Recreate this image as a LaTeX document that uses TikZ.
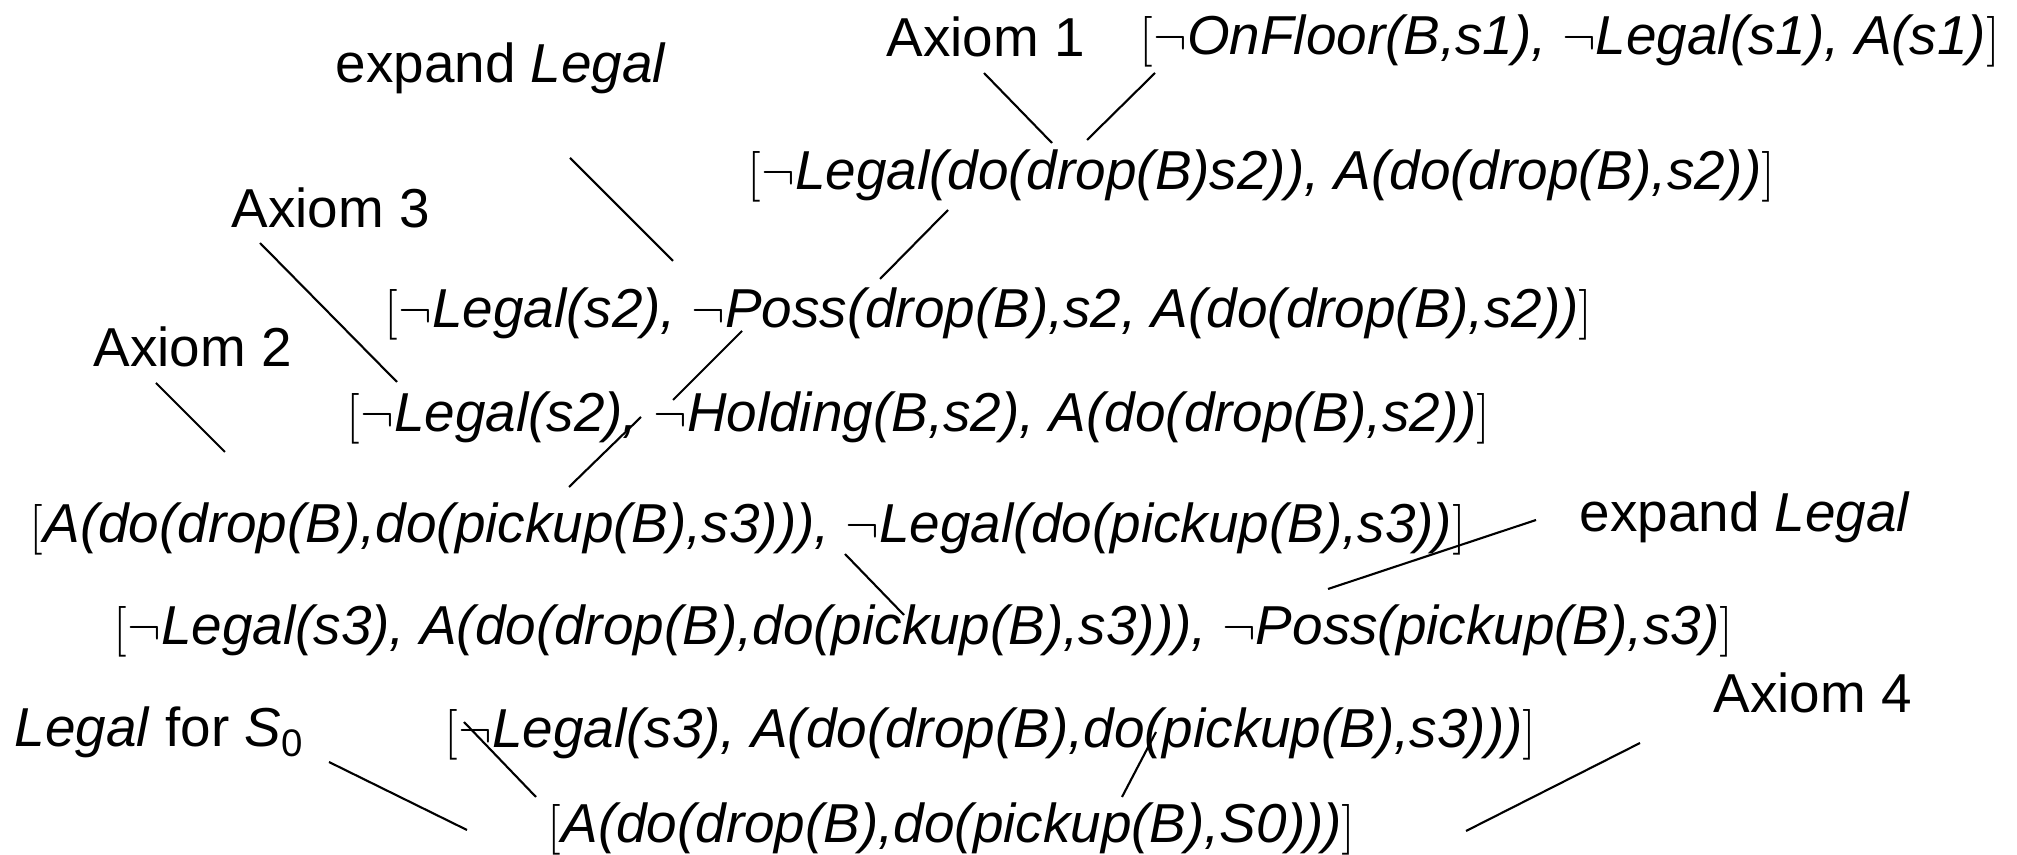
\documentclass[tikz,border=0pt]{standalone}
\usepackage{fontspec}
\setmainfont{Liberation Sans}
\newcommand{\nneg}{$\neg$}
\newcommand{\clause}[1]{$[$\textit{#1}$]$}

\begin{document}
\begin{tikzpicture}[x=0.01cm,y=-0.01cm,
  lbl/.style={anchor=base west,inner sep=0pt,font=\fontsize{15.6}{18}\selectfont},
  link/.style={line width=0.6pt}]
\useasboundingbox (0,0) rectangle (2017,855);
% resolution steps
\node[lbl] (c0) at (1139,55) {\clause{\nneg OnFloor(B,s1), \nneg Legal(s1), A(s1)}};
\node[lbl] (c1) at (747,190) {\clause{\nneg Legal(do(drop(B)s2)), A(do(drop(B),s2))}};
\node[lbl] (c2) at (384,328) {\clause{\nneg Legal(s2), \nneg Poss(drop(B),s2, A(do(drop(B),s2))}};
\node[lbl] (c3) at (346,432) {\clause{\nneg Legal(s2), \nneg Holding(B,s2), A(do(drop(B),s2))}};
\node[lbl] (c4) at (29,543) {\clause{A(do(drop(B),do(pickup(B),s3))), \nneg Legal(do(pickup(B),s3))}};
\node[lbl] (c5) at (113,645) {\clause{\nneg Legal(s3), A(do(drop(B),do(pickup(B),s3))), \nneg Poss(pickup(B),s3)}};
\node[lbl] (c6) at (444,748) {\clause{\nneg Legal(s3), A(do(drop(B),do(pickup(B),s3)))}};
\node[lbl] (c7) at (547,843) {\clause{A(do(drop(B),do(pickup(B),S0)))}};
% side labels
\node[lbl] (expL1) at (335,83) {expand \textit{Legal}};
\node[lbl] (ax1) at (886,57) {Axiom 1};
\node[lbl] (ax3) at (231,228) {Axiom 3};
\node[lbl] (ax2) at (93,367) {Axiom 2};
\node[lbl] (expL2) at (1579,532) {expand \textit{Legal}};
\node[lbl] (legS0) at (14,747) {\textit{Legal} for \textit{S}\textsubscript{0}};
\node[lbl] (ax4) at (1713,712) {Axiom 4};
% line ends
\coordinate (ax1-e) at (984,73);   \coordinate (c1-n1) at (1052,143);
\coordinate (c0-s) at (1155,73);   \coordinate (c1-n2) at (1087,140);
\coordinate (expL1-e) at (570,158); \coordinate (c2-n1) at (673,261);
\coordinate (c1-s) at (948,210);   \coordinate (c2-n2) at (880,279);
\coordinate (ax3-e) at (260,243);  \coordinate (c3-n1) at (397,382);
\coordinate (c2-s) at (742,331);   \coordinate (c3-n2) at (673,400);
\coordinate (ax2-e) at (156,383);  \coordinate (c4-n1) at (225,452);
\coordinate (c3-s) at (641,417);   \coordinate (c4-n2) at (569,487);
\coordinate (c4-s) at (845,554);   \coordinate (c5-n1) at (904,615);
\coordinate (expL2-e) at (1536,520); \coordinate (c5-n2) at (1328,589);
\coordinate (legS0-e) at (329,762); \coordinate (c7-n1) at (467,830);
\coordinate (c6-s1) at (464,722);  \coordinate (c7-n2) at (536,797);
\coordinate (c6-s2) at (1156,732); \coordinate (c7-n3) at (1122,797);
\coordinate (ax4-e) at (1640,743); \coordinate (c7-n4) at (1466,831);
\draw[link] (ax1-e) -- (c1-n1);
\draw[link] (c0-s) -- (c1-n2);
\draw[link] (expL1-e) -- (c2-n1);
\draw[link] (c1-s) -- (c2-n2);
\draw[link] (ax3-e) -- (c3-n1);
\draw[link] (c2-s) -- (c3-n2);
\draw[link] (ax2-e) -- (c4-n1);
\draw[link] (c3-s) -- (c4-n2);
\draw[link] (c4-s) -- (c5-n1);
\draw[link] (expL2-e) -- (c5-n2);
\draw[link] (legS0-e) -- (c7-n1);
\draw[link] (c6-s1) -- (c7-n2);
\draw[link] (c6-s2) -- (c7-n3);
\draw[link] (ax4-e) -- (c7-n4);
\end{tikzpicture}
\end{document}
